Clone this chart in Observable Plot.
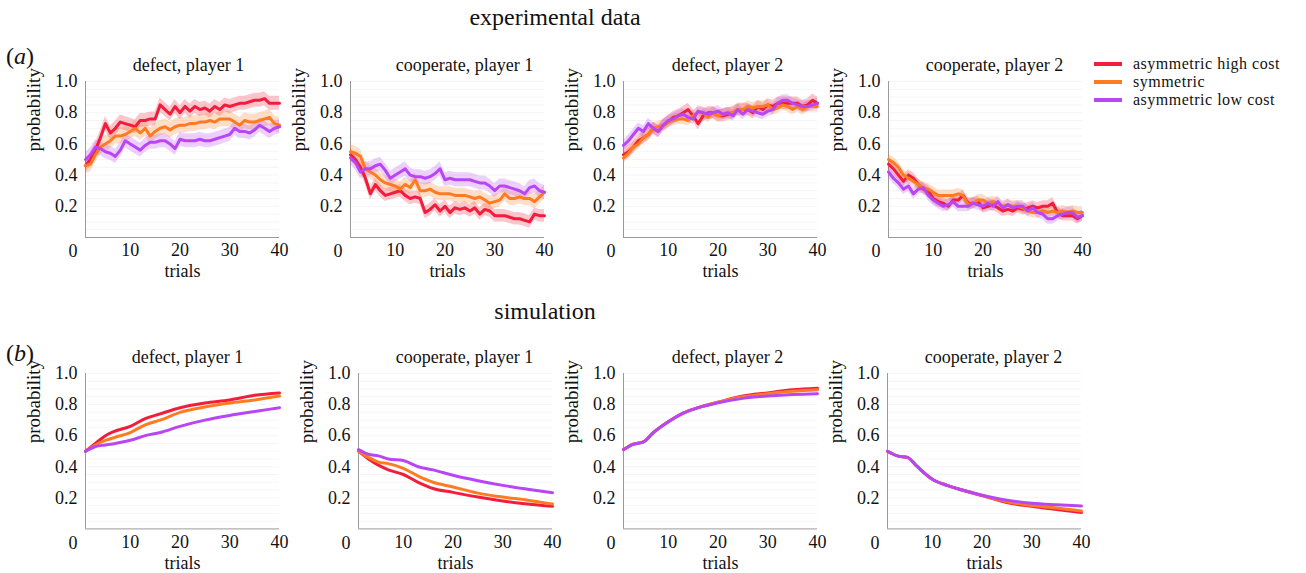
<!DOCTYPE html>
<html>
<head>
<meta charset="utf-8">
<script src="https://cdn.jsdelivr.net/npm/d3@7"></script>
<script src="https://cdn.jsdelivr.net/npm/@observablehq/plot@0.6"></script>
<style>
  html, body { margin: 0; padding: 0; background: #fff; }
  #root { position: relative; width: 1306px; height: 573px; overflow: hidden; font-family: "Liberation Serif", "Times New Roman", serif; color: #111; }
  .abs { position: absolute; white-space: nowrap; }
  .sec { font-size: 24px; transform: translate(-50%, -50%); }
  .tag { font-size: 24px; transform: translateY(-50%); }
  .leg { font-size: 16px; line-height: 18px; letter-spacing: 0.5px; }
  .sw { display: inline-block; width: 28px; height: 4px; vertical-align: middle; margin-right: 11px; position: relative; top: -1px; }
</style>
</head>
<body>
<div id="root"></div>
<script>
// ---------- data ----------
const seriesNames = ["asymmetric high cost", "symmetric", "asymmetric low cost"];
const seriesColors = ["#f21d3a", "#ff7b22", "#b846f5"];
const panelTitles = ["defect, player 1", "cooperate, player 1", "defect, player 2", "cooperate, player 2"];
const xTicks = [10, 20, 30, 40];
const yTicks = [0.2, 0.4, 0.6, 0.8, 1.0];
const gridValues = [0.05,0.1,0.15,0.2,0.25,0.3,0.35,0.4,0.45,0.5,0.55,0.6,0.65,0.7,0.75,0.8,0.85,0.9,0.95,1.0];

// experimental data: trials 1..40
const expTrials = [1,2,3,4,5,6,7,8,9,10,11,12,13,14,15,16,17,18,19,20,21,22,23,24,25,26,27,28,29,30,31,32,33,34,35,36,37,38,39,40];

const expDefectP1High = [0.46,0.50,0.56,0.64,0.73,0.67,0.70,0.74,0.73,0.72,0.71,0.75,0.75,0.76,0.76,0.85,0.82,0.79,0.84,0.80,0.84,0.81,0.84,0.82,0.83,0.81,0.84,0.82,0.85,0.84,0.85,0.86,0.86,0.87,0.88,0.88,0.89,0.86,0.86,0.86];
const expDefectP1Sym  = [0.46,0.47,0.53,0.58,0.60,0.62,0.65,0.65,0.66,0.68,0.70,0.67,0.70,0.65,0.68,0.70,0.71,0.69,0.71,0.72,0.72,0.73,0.73,0.74,0.74,0.75,0.74,0.76,0.76,0.76,0.74,0.72,0.75,0.74,0.74,0.75,0.76,0.77,0.73,0.72];
const expDefectP1Low  = [0.50,0.53,0.58,0.57,0.55,0.54,0.52,0.56,0.62,0.60,0.58,0.56,0.59,0.61,0.61,0.62,0.62,0.60,0.57,0.63,0.62,0.62,0.62,0.63,0.62,0.62,0.63,0.64,0.65,0.66,0.70,0.68,0.68,0.67,0.69,0.72,0.70,0.68,0.70,0.71];

const expCoopP1High = [0.53,0.50,0.45,0.38,0.28,0.34,0.30,0.27,0.28,0.29,0.30,0.27,0.25,0.26,0.25,0.16,0.18,0.21,0.17,0.20,0.16,0.19,0.18,0.19,0.17,0.19,0.15,0.18,0.17,0.14,0.14,0.14,0.13,0.12,0.12,0.11,0.10,0.15,0.14,0.14];
const expCoopP1Sym  = [0.55,0.54,0.52,0.44,0.42,0.40,0.37,0.35,0.34,0.33,0.31,0.34,0.32,0.37,0.30,0.30,0.31,0.29,0.28,0.28,0.28,0.27,0.27,0.27,0.26,0.25,0.26,0.24,0.22,0.23,0.24,0.28,0.25,0.25,0.26,0.25,0.25,0.23,0.26,0.29];
const expCoopP1Low  = [0.51,0.48,0.42,0.44,0.44,0.46,0.47,0.43,0.38,0.40,0.42,0.44,0.40,0.39,0.39,0.38,0.39,0.41,0.44,0.37,0.38,0.37,0.37,0.37,0.37,0.36,0.35,0.35,0.33,0.30,0.33,0.33,0.32,0.31,0.30,0.28,0.32,0.33,0.30,0.29];

const expDefectP2High = [0.53,0.55,0.58,0.62,0.64,0.66,0.70,0.68,0.72,0.74,0.77,0.78,0.80,0.82,0.78,0.73,0.78,0.80,0.80,0.78,0.78,0.79,0.80,0.82,0.82,0.82,0.80,0.84,0.82,0.85,0.84,0.86,0.86,0.86,0.86,0.86,0.84,0.85,0.88,0.86];
const expDefectP2Sym  = [0.51,0.54,0.58,0.60,0.64,0.66,0.70,0.71,0.72,0.74,0.75,0.76,0.76,0.75,0.78,0.80,0.80,0.77,0.80,0.78,0.79,0.80,0.80,0.82,0.82,0.84,0.83,0.84,0.84,0.85,0.82,0.83,0.85,0.84,0.82,0.84,0.82,0.84,0.84,0.84];
const expDefectP2Low  = [0.59,0.62,0.66,0.70,0.68,0.73,0.70,0.68,0.72,0.75,0.76,0.78,0.79,0.77,0.76,0.81,0.80,0.79,0.80,0.81,0.79,0.80,0.78,0.82,0.79,0.82,0.81,0.80,0.79,0.81,0.82,0.86,0.88,0.88,0.86,0.85,0.84,0.84,0.85,0.86];

const expCoopP2High = [0.47,0.44,0.40,0.36,0.40,0.38,0.34,0.31,0.30,0.25,0.23,0.22,0.20,0.24,0.24,0.27,0.22,0.22,0.23,0.19,0.20,0.21,0.19,0.17,0.18,0.17,0.19,0.18,0.19,0.20,0.19,0.20,0.20,0.22,0.16,0.14,0.14,0.14,0.12,0.14];
const expCoopP2Sym  = [0.50,0.48,0.45,0.40,0.38,0.36,0.34,0.32,0.31,0.29,0.27,0.27,0.27,0.27,0.28,0.27,0.21,0.22,0.24,0.24,0.22,0.23,0.22,0.20,0.21,0.20,0.20,0.19,0.17,0.16,0.16,0.17,0.16,0.17,0.16,0.17,0.16,0.17,0.16,0.16];
const expCoopP2Low  = [0.42,0.38,0.35,0.31,0.33,0.28,0.31,0.32,0.27,0.24,0.22,0.20,0.21,0.23,0.20,0.20,0.20,0.22,0.21,0.20,0.22,0.20,0.23,0.19,0.21,0.19,0.20,0.20,0.17,0.19,0.16,0.15,0.12,0.12,0.14,0.15,0.16,0.16,0.13,0.14];

// half-width of the shaded error band (high, symmetric, low), per experimental panel
const expBandDefectP1 = [0.045, 0.05, 0.045];
const expBandCoopP1   = [0.04, 0.045, 0.045];
const expBandDefectP2 = [0.04, 0.035, 0.035];
const expBandCoopP2   = [0.035, 0.035, 0.035];

// simulation: sampled trials
const simTrials = [1,3,5,7,10,13,16,20,25,30,35,40];
const simDefectP1High = [0.50,0.55,0.60,0.63,0.66,0.71,0.74,0.78,0.81,0.83,0.86,0.875];
const simDefectP1Sym  = [0.50,0.54,0.57,0.59,0.62,0.67,0.70,0.75,0.785,0.81,0.83,0.855];
const simDefectP1Low  = [0.50,0.53,0.54,0.55,0.57,0.60,0.62,0.66,0.70,0.73,0.755,0.78];

const simCoopP1High = [0.50,0.45,0.41,0.38,0.35,0.30,0.26,0.235,0.205,0.18,0.16,0.145];
const simCoopP1Sym  = [0.50,0.46,0.43,0.42,0.39,0.34,0.30,0.27,0.23,0.205,0.185,0.16];
const simCoopP1Low  = [0.51,0.48,0.47,0.45,0.44,0.40,0.38,0.345,0.31,0.28,0.255,0.232];

const simDefectP2High = [0.51,0.545,0.56,0.62,0.69,0.745,0.78,0.815,0.855,0.875,0.895,0.905];
const simDefectP2Sym  = [0.51,0.545,0.56,0.62,0.69,0.745,0.78,0.815,0.85,0.87,0.885,0.895];
const simDefectP2Low  = [0.51,0.545,0.56,0.62,0.69,0.745,0.78,0.812,0.84,0.855,0.865,0.87];

const simCoopP2High = [0.50,0.47,0.46,0.40,0.32,0.28,0.25,0.215,0.17,0.145,0.125,0.105];
const simCoopP2Sym  = [0.50,0.47,0.46,0.40,0.32,0.28,0.25,0.215,0.175,0.15,0.135,0.115];
const simCoopP2Low  = [0.50,0.47,0.46,0.40,0.32,0.28,0.25,0.217,0.185,0.165,0.155,0.147];

// ---------- build ----------
const SERIF = "Liberation Serif";
function rows(trials, arrays, bands) {
  const out = [];
  arrays.forEach((arr, s) => arr.forEach((v, i) => out.push({
    trial: trials[i], p: v, series: seriesNames[s],
    lo: bands ? v - bands[s] : v, hi: bands ? v + bands[s] : v
  })));
  return out;
}

const FW = 194;
const ML = 60, MR = 10, MT = 34, MB = 48;

function panel(title, data, hasBand, frameH, titleDx) {
  const t = {fontFamily: SERIF};
  const marks = [
    Plot.gridY(gridValues, {stroke: "#000", strokeOpacity: 0.045}),
    Plot.ruleX([1], {stroke: "#9a9a9a", strokeWidth: 1}),
    Plot.ruleY([0], {stroke: "#9a9a9a", strokeWidth: 1})
  ];
  if (hasBand) {
    marks.push(Plot.areaY(data, {x: "trial", y1: "lo", y2: "hi", z: "series", fill: "series", fillOpacity: 0.25}));
  }
  marks.push(
    Plot.lineY(data, {x: "trial", y: "p", z: "series", stroke: "series", strokeWidth: 3,
      curve: hasBand ? "linear" : "monotone-x", strokeLinejoin: "round"}),
    Plot.axisX(xTicks, {tickSize: 0, tickPadding: 6, label: null, fontSize: 18, ...t}),
    Plot.axisY(yTicks, {tickSize: 0, tickPadding: 8, tickFormat: d => d.toFixed(1), label: null, fontSize: 18, ...t}),
    Plot.axisY([0], {tickSize: 0, tickPadding: 8, tickFormat: () => "0", dy: 14, label: null, fontSize: 18, ...t}),
    Plot.text([title], {frameAnchor: "top", lineAnchor: "middle", dy: -16, dx: titleDx, fontSize: 18, ...t}),
    Plot.text(["trials"], {frameAnchor: "bottom", lineAnchor: "middle", dy: 34, fontSize: 18, ...t}),
    Plot.text(["probability"], {frameAnchor: "left", lineAnchor: "middle", rotate: -90, dx: -52, dy: -8, fontSize: 19, ...t})
  );
  return Plot.plot({
    width: ML + FW + MR,
    height: MT + frameH + MB,
    marginLeft: ML, marginRight: MR, marginTop: MT, marginBottom: MB,
    x: {domain: [1, 40]},
    y: {domain: [0, 1]},
    color: {domain: seriesNames, range: seriesColors},
    style: {fontFamily: SERIF, fontSize: "18px", color: "#111", background: "transparent", overflow: "visible"},
    marks
  });
}

const root = document.getElementById("root");
function place(el, frameLeft, frameTop) {
  el.style.position = "absolute";
  el.style.left = (frameLeft - ML) + "px";
  el.style.top = (frameTop - MT) + "px";
  root.appendChild(el);
}

const expPanels = [
  [expDefectP1High, expDefectP1Sym, expDefectP1Low, expBandDefectP1],
  [expCoopP1High, expCoopP1Sym, expCoopP1Low, expBandCoopP1],
  [expDefectP2High, expDefectP2Sym, expDefectP2Low, expBandDefectP2],
  [expCoopP2High, expCoopP2Sym, expCoopP2Low, expBandCoopP2]
];
const simPanels = [
  [simDefectP1High, simDefectP1Sym, simDefectP1Low],
  [simCoopP1High, simCoopP1Sym, simCoopP1Low],
  [simDefectP2High, simDefectP2Sym, simDefectP2Low],
  [simCoopP2High, simCoopP2Sym, simCoopP2Low]
];
const topLefts = [85, 349.5, 622.5, 887.5];
const botLefts = [85, 357.5, 622.5, 886.5];
const titleDxTop = [6, 17, 7, 9];
const titleDxBot = [5, 9, 7, 9];

expPanels.forEach((p, i) => {
  const data = rows(expTrials, [p[0], p[1], p[2]], p[3]);
  place(panel(panelTitles[i], data, true, 156, titleDxTop[i]), topLefts[i], 80.7);
});
simPanels.forEach((p, i) => {
  const data = rows(simTrials, p, null);
  place(panel(panelTitles[i], data, false, 155.4, titleDxBot[i]), botLefts[i], 373.3);
});

function addText(html, cls, x, y) {
  const d = document.createElement("div");
  d.className = "abs " + cls;
  d.style.left = x + "px";
  d.style.top = y + "px";
  d.innerHTML = html;
  root.appendChild(d);
}
addText("experimental data", "sec", 555, 17);
addText("simulation", "sec", 545, 311);
addText("(<i>a</i>)", "tag", 6, 56);
addText("(<i>b</i>)", "tag", 6, 353);

// legend
seriesNames.forEach((name, i) => {
  const d = document.createElement("div");
  d.className = "abs leg";
  d.style.left = "1094px";
  d.style.top = (64 + i * 18 - 9) + "px";
  d.innerHTML = `<span class="sw" style="background:${seriesColors[i]}"></span>${name}`;
  root.appendChild(d);
});
</script>
</body>
</html>
